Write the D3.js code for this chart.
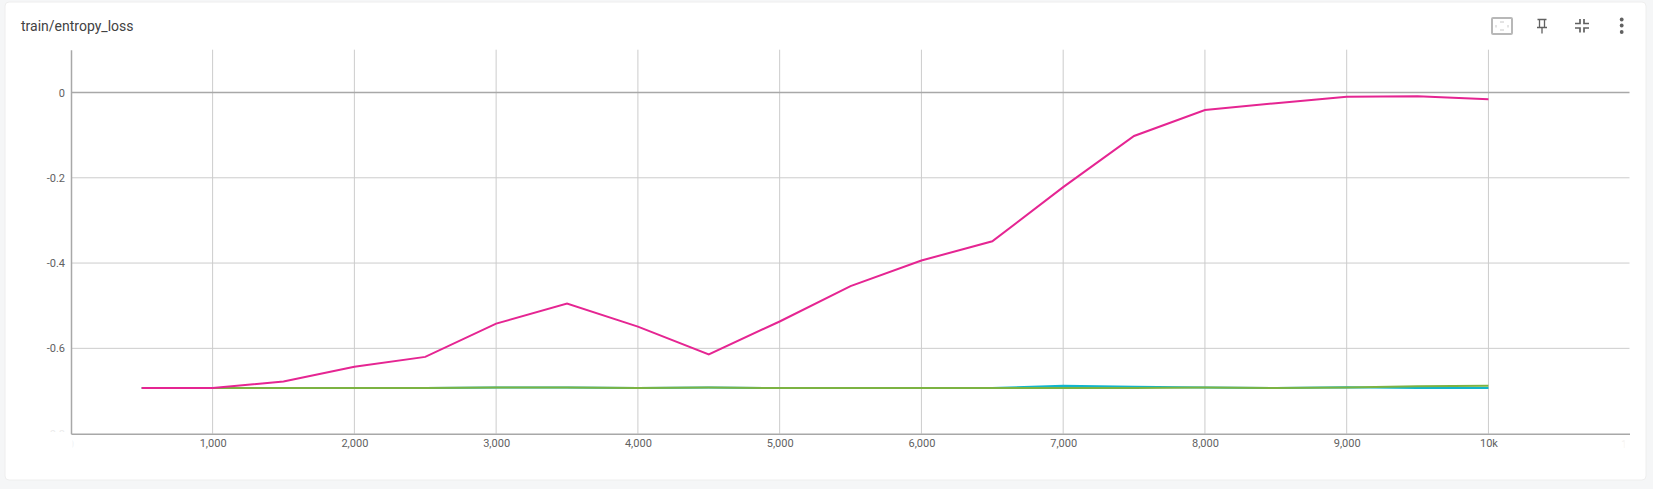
<!DOCTYPE html>
<html>
<head>
<meta charset="utf-8">
<script src="https://cdn.jsdelivr.net/npm/d3@7"></script>
<style>
  html, body { margin: 0; padding: 0; background: #f5f6f7; overflow: hidden; }
  #chart { position: absolute; left: 0; top: 0; }
  text { font-family: Roboto, sans-serif; }
</style>
</head>
<body>
<div id="chart"></div>
<script>
// data
var steps = [500, 1000, 1500, 2000, 2500, 3000, 3500, 4000, 4500, 5000, 5500, 6000, 6500, 7000, 7500, 8000, 8500, 9000, 9500, 10000];
var pink = [-0.693, -0.693, -0.678, -0.643, -0.62, -0.542, -0.495, -0.549, -0.614, -0.537, -0.454, -0.394, -0.349, -0.222, -0.102, -0.041, -0.025, -0.01, -0.009, -0.016];
var teal = [-0.693, -0.693, -0.693, -0.693, -0.693, -0.692, -0.692, -0.693, -0.692, -0.693, -0.693, -0.693, -0.693, -0.688, -0.69, -0.692, -0.693, -0.691, -0.693, -0.693];
var green = [-0.693, -0.693, -0.693, -0.693, -0.693, -0.692, -0.692, -0.693, -0.692, -0.693, -0.693, -0.693, -0.693, -0.693, -0.693, -0.692, -0.693, -0.692, -0.689, -0.688];
var x_ticks = [1000, 2000, 3000, 4000, 5000, 6000, 7000, 8000, 9000, 10000];
var y_ticks = [0, -0.2, -0.4, -0.6];
// labels that are fading out at the edge of the plot
var x_faded = [0, 11000];
var y_faded = [-0.8];

var width = 1653;
var height = 489;

var x = d3.scaleLinear().domain([1, 10995]).range([71, 1629.5]);
var y = d3.scaleLinear().domain([-0.8002, 0.1004]).range([433.7, 49.7]);

var format_x = d => d >= 10000 ? (d / 1000) + 'k' : d3.format(',')(d);
var format_y = d => d == 0 ? '0' : d3.format('.1f')(d).replace('\u2212', '-');

var svg = d3.select('#chart')
  .append('svg')
  .attr('width', width)
  .attr('height', height);

// card
svg.append('rect')
  .attr('x', 5).attr('y', 2)
  .attr('width', 1641).attr('height', 478)
  .attr('rx', 4)
  .attr('fill', 'white')
  .attr('stroke', '#eeeeee');

svg.append('text')
  .attr('x', 21).attr('y', 31)
  .attr('fill', '#424242')
  .style('font-size', '14px')
  .text('train/entropy_loss');

// clips for the faded labels
var defs = svg.append('defs');
defs.append('clipPath').attr('id', 'clip-y')
  .append('rect').attr('x', 48).attr('y', 425).attr('width', 22).attr('height', 7);
defs.append('clipPath').attr('id', 'clip-x')
  .append('rect').attr('x', 72.5).attr('y', 436).attr('width', 1552).attr('height', 16);

// grid
svg.selectAll('line.vgrid')
  .data(x_ticks)
  .enter()
  .append('line')
  .attr('class', 'vgrid')
  .attr('x1', d => x(d)).attr('x2', d => x(d))
  .attr('y1', y.range()[1]).attr('y2', y.range()[0])
  .attr('stroke', '#cccccc');

svg.selectAll('line.hgrid')
  .data(y_ticks)
  .enter()
  .append('line')
  .attr('class', 'hgrid')
  .attr('x1', x.range()[0]).attr('x2', x.range()[1])
  .attr('y1', d => y(d)).attr('y2', d => y(d))
  .attr('stroke', d => d == 0 ? '#a8a8a8' : '#cccccc')
  .attr('stroke-width', d => d == 0 ? 1.5 : 1);

// axes
var x_axis = d3.axisBottom(x)
  .tickValues(x_ticks)
  .tickSize(0)
  .tickPadding(6)
  .tickFormat(format_x);

var y_axis = d3.axisLeft(y)
  .tickValues(y_ticks)
  .tickSize(0)
  .tickPadding(6)
  .tickFormat(format_y);

var gx = svg.append('g')
  .attr('transform', 'translate(0,' + y.range()[0] + ')')
  .call(x_axis);
var gy = svg.append('g')
  .attr('transform', 'translate(' + x.range()[0] + ',0)')
  .call(y_axis);

[gx, gy].forEach(function(g) {
  g.selectAll('text').attr('fill', '#616161').style('font-size', '11px').style('font-family', 'Roboto, sans-serif');
  g.select('.domain').attr('stroke', '#a8a8a8').attr('stroke-width', 1.5);
});

svg.append('g')
  .attr('clip-path', 'url(#clip-x)')
  .selectAll('text')
  .data(x_faded)
  .enter()
  .append('text')
  .attr('x', d => x(d))
  .attr('y', 448)
  .attr('text-anchor', 'middle')
  .attr('fill', '#f0f0f0')
  .style('font-size', '11px')
  .text(format_x);

svg.append('g')
  .attr('clip-path', 'url(#clip-y)')
  .selectAll('text')
  .data(y_faded)
  .enter()
  .append('text')
  .attr('x', x.range()[0] - 6)
  .attr('y', d => y(d) + 4)
  .attr('text-anchor', 'end')
  .attr('fill', '#ececec')
  .style('font-size', '11px')
  .text(format_y);

// lines
var line = d3.line()
  .x((d, i) => x(steps[i]))
  .y(d => y(d));

var series = [[teal, '#12b5cb'], [green, '#7cb342'], [pink, '#e52592']];
svg.selectAll('path.run')
  .data(series)
  .enter()
  .append('path')
  .attr('class', 'run')
  .attr('d', d => line(d[0]))
  .attr('fill', 'none')
  .attr('stroke', d => d[1])
  .attr('stroke-width', 2);

// toolbar icons
var icons = svg.append('g')
  .attr('fill', 'none')
  .attr('stroke', '#616161');

// fit domain
icons.append('rect')
  .attr('x', 1492).attr('y', 18)
  .attr('width', 20).attr('height', 16)
  .attr('rx', 1)
  .attr('stroke', '#b8b8b8')
  .attr('stroke-width', 2);
icons.append('path')
  .attr('d', 'M1500 22h4M1500 30h4M1496 25v2.5M1508 25v2.5')
  .attr('stroke', '#c8c8c8');

// pin
icons.append('path')
  .attr('d', 'M1537.5 19.5h9M1539.5 19.5v7.5M1544.5 19.5v7.5M1537 27.5h10M1542 27.5v6')
  .attr('stroke-width', 1.3);

// fullscreen exit
icons.append('path')
  .attr('d', 'M1575 23.5h5v-4.5M1584 19v4.5h5M1575 28h5v4.5M1584 32.5v-4.5h5')
  .attr('stroke-width', 1.7);

// more menu
svg.selectAll('circle.dot')
  .data([19.5, 25.5, 32])
  .enter()
  .append('circle')
  .attr('class', 'dot')
  .attr('cx', 1621.7).attr('cy', d => d)
  .attr('r', 1.9)
  .attr('fill', '#616161');
</script>
</body>
</html>
